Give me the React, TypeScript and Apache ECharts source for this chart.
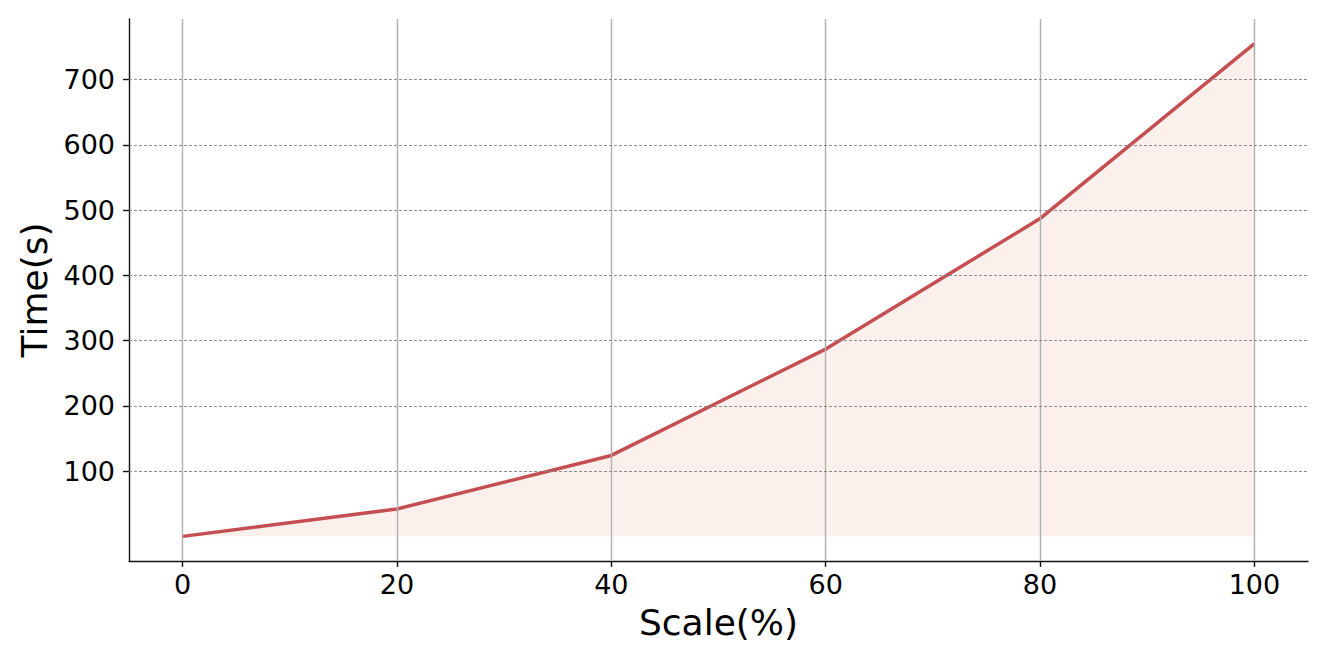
import React, { useEffect, useRef } from "react";
import * as echarts from "echarts";

const scaleValues = [0, 20, 40, 60, 80, 100];
const timeValues = [0, 42, 124, 287, 487, 755];
const xTicks = [0, 20, 40, 60, 80, 100];
const yTicks = [100, 200, 300, 400, 500, 600, 700];

export default function App() {
  const ref = useRef<HTMLDivElement>(null);
  useEffect(() => {
    if (!ref.current) return;
    const chart = echarts.init(ref.current, undefined, { renderer: "svg" });
    const font = "DejaVu Sans";
    chart.setOption({
      animation: false,
      textStyle: { fontFamily: font },
      grid: { left: 129, right: 21, top: 19, bottom: 103 },
      xAxis: {
        type: "value",
        min: -5,
        max: 105,
        name: "Scale(%)",
        nameLocation: "middle",
        nameGap: 43,
        nameTextStyle: { fontSize: 36, color: "#000", fontFamily: font },
        axisLine: { show: true, onZero: false, lineStyle: { color: "#111", width: 1.4 } },
        axisTick: { show: true, length: 6, customValues: xTicks, lineStyle: { color: "#111", width: 1.4 } },
        axisLabel: { customValues: xTicks, fontSize: 27, color: "#000", margin: 10, fontFamily: font },
        splitLine: { show: false },
      },
      yAxis: {
        type: "value",
        min: -37.75,
        max: 792.75,
        name: "Time(s)",
        nameLocation: "middle",
        nameGap: 73,
        nameTextStyle: { fontSize: 36, color: "#000", fontFamily: font },
        axisLine: { show: true, onZero: false, lineStyle: { color: "#111", width: 1.4 } },
        axisTick: { show: true, length: 6, customValues: yTicks, lineStyle: { color: "#111", width: 1.4 } },
        axisLabel: { customValues: yTicks, fontSize: 27, color: "#000", margin: 14, fontFamily: font },
        splitLine: { show: false },
      },
      series: [
        {
          type: "line",
          data: [],
          z: 1,
          silent: true,
          markLine: {
            silent: true,
            symbol: "none",
            label: { show: false },
            lineStyle: { color: "#b0b0b0", width: 1.4, type: "solid" },
            data: xTicks.map((v) => ({ xAxis: v })),
          },
        },
        {
          type: "line",
          data: [],
          z: 1,
          silent: true,
          markLine: {
            silent: true,
            symbol: "none",
            label: { show: false },
            lineStyle: { color: "#808080", width: 0.9, type: [3, 2] },
            data: yTicks.map((v) => ({ yAxis: v })),
          },
        },
        {
          type: "line",
          z: 3,
          data: scaleValues.map((x, i) => [x, timeValues[i]]),
          showSymbol: false,
          symbol: "none",
          lineStyle: { color: "#c44e52", width: 3.5 },
          itemStyle: { color: "#c44e52" },
          areaStyle: { color: "rgba(236,150,122,0.2)", origin: 0 },
        },
      ],
    });
    return () => chart.dispose();
  }, []);
  return <div ref={ref} style={{ width: 1329, height: 664, position: "absolute", left: 0, top: 0 }} />;
}
